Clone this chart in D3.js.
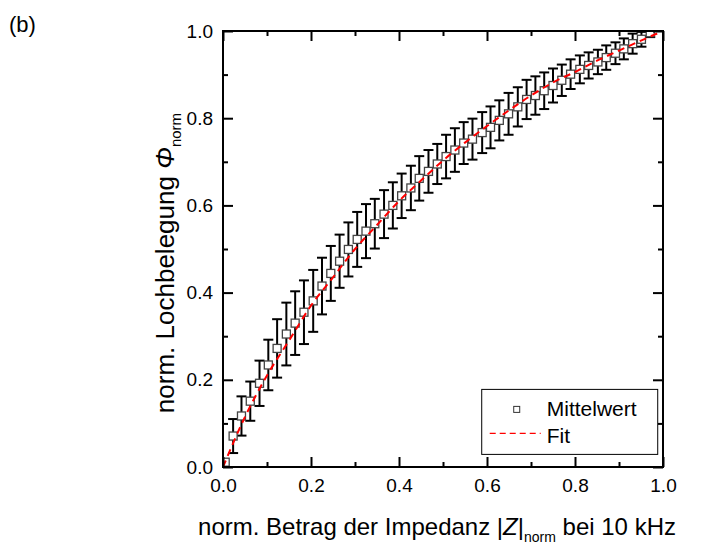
<!DOCTYPE html>
<html lang="de">
<head>
    <meta charset="UTF-8">
    <title>Lochbelegung</title>
    <script src="https://cdn.jsdelivr.net/npm/d3@7.8.5/dist/d3.min.js"></script>
    <style>
        body { margin: 0; background: #fff; }
        text { font-family: "Liberation Sans", Arial, sans-serif; fill: #000; }
    </style>
</head>
<body>
<div id="chart"></div>
<script type="text/javascript">
    // Mittelwerte
    const xVals = [0.005, 0.023, 0.042, 0.062, 0.083, 0.103, 0.123, 0.144, 0.164, 0.184,
        0.205, 0.225, 0.245, 0.265, 0.285, 0.305, 0.325, 0.345, 0.366, 0.386,
        0.406, 0.427, 0.446, 0.467, 0.487, 0.507, 0.527, 0.547, 0.567, 0.589,
        0.608, 0.628, 0.649, 0.670, 0.690, 0.710, 0.730, 0.750, 0.770, 0.790,
        0.811, 0.831, 0.852, 0.871, 0.892, 0.911, 0.931, 0.951, 0.971];
    const yMean = [0.011, 0.071, 0.117, 0.151, 0.192, 0.234, 0.272, 0.305, 0.330, 0.355,
        0.381, 0.415, 0.444, 0.472, 0.499, 0.522, 0.541, 0.558, 0.580, 0.600,
        0.622, 0.640, 0.662, 0.678, 0.695, 0.712, 0.727, 0.743, 0.752, 0.767,
        0.779, 0.795, 0.810, 0.826, 0.843, 0.852, 0.863, 0.875, 0.887, 0.901,
        0.912, 0.921, 0.929, 0.939, 0.949, 0.959, 0.971, 0.981, 0.996];
    const yErr = [0.000, 0.039, 0.045, 0.045, 0.052, 0.058, 0.067, 0.072, 0.073, 0.073,
        0.071, 0.065, 0.063, 0.061, 0.062, 0.063, 0.062, 0.057, 0.055, 0.053,
        0.051, 0.051, 0.051, 0.049, 0.046, 0.050, 0.050, 0.048, 0.047, 0.047,
        0.048, 0.046, 0.048, 0.045, 0.045, 0.044, 0.042, 0.039, 0.036, 0.034,
        0.032, 0.030, 0.028, 0.028, 0.025, 0.024, 0.023, 0.017, 0.010];

    // Fit curve
    const fitX = [0, 0.05, 0.10, 0.15, 0.20, 0.25, 0.30, 0.35, 0.40, 0.45, 0.50,
        0.55, 0.60, 0.65, 0.70, 0.75, 0.80, 0.85, 0.90, 0.95, 1.0];
    const fitY = [0, 0.115, 0.210, 0.290, 0.370, 0.435, 0.500, 0.555, 0.610, 0.657, 0.703,
        0.744, 0.782, 0.818, 0.852, 0.882, 0.906, 0.932, 0.955, 0.978, 1.0];

    const majorTicks = [0, 0.2, 0.4, 0.6, 0.8, 1.0];
    const minorTicks = [0.1, 0.3, 0.5, 0.7, 0.9];

    const width = 701, height = 546;
    const margin = {top: 31, right: 38, bottom: 79, left: 223};
    const pw = width - margin.left - margin.right;
    const ph = height - margin.top - margin.bottom;

    const svg = d3.select('#chart').append('svg')
        .attr('width', width)
        .attr('height', height);

    const x = d3.scaleLinear().domain([0, 1]).range([0, pw]);
    const y = d3.scaleLinear().domain([0, 1]).range([ph, 0]);

    const g = svg.append('g').attr('transform', `translate(${margin.left},${margin.top})`);

    g.append('clipPath').attr('id', 'clip')
        .append('rect').attr('width', pw).attr('height', ph);

    const plot = g.append('g').attr('clip-path', 'url(#clip)');

    const data = xVals.map((v, i) => ({x: v, y: yMean[i], e: yErr[i]}));

    // error bars
    const capW = 5;
    const eb = plot.append('g').attr('stroke', '#000').attr('stroke-width', 2);
    data.filter(d => d.e > 0).forEach(d => {
        const cx = x(d.x);
        eb.append('line').attr('x1', cx).attr('x2', cx)
            .attr('y1', y(d.y - d.e)).attr('y2', y(d.y + d.e));
        eb.append('line').attr('x1', cx - capW).attr('x2', cx + capW)
            .attr('y1', y(d.y - d.e)).attr('y2', y(d.y - d.e));
        eb.append('line').attr('x1', cx - capW).attr('x2', cx + capW)
            .attr('y1', y(d.y + d.e)).attr('y2', y(d.y + d.e));
    });

    // squares
    const sq = 8;
    plot.append('g').selectAll('rect').data(data).join('rect')
        .attr('x', d => x(d.x) - sq / 2)
        .attr('y', d => y(d.y) - sq / 2)
        .attr('width', sq).attr('height', sq)
        .attr('fill', '#fff')
        .attr('stroke', '#444')
        .attr('stroke-width', 1.3);

    // fit line
    const line = d3.line()
        .x((d, i) => x(fitX[i]))
        .y(d => y(d))
        .curve(d3.curveMonotoneX);
    plot.append('path')
        .attr('d', line(fitY))
        .attr('fill', 'none')
        .attr('stroke', '#ff0000')
        .attr('stroke-width', 2)
        .attr('stroke-dasharray', '7,5');

    // axes (ticks inward)
    function styleAxis(sel) {
        sel.select('.domain').remove();
        sel.selectAll('.tick line').attr('stroke', '#000').attr('stroke-width', 2);
        sel.selectAll('.tick text').style('font-size', '19px')
            .style('font-family', '"Liberation Sans", Arial, sans-serif').attr('fill', '#000');
    }

    const fmt = d3.format('.1f');
    g.append('g').attr('transform', `translate(0,${ph})`)
        .call(d3.axisBottom(x).tickValues(majorTicks).tickFormat(fmt).tickSize(-10).tickPadding(12))
        .call(styleAxis);
    g.append('g').attr('transform', `translate(0,${ph})`)
        .call(d3.axisBottom(x).tickValues(minorTicks).tickFormat('').tickSize(-5))
        .call(styleAxis);
    g.append('g')
        .call(d3.axisLeft(y).tickValues(majorTicks).tickFormat(fmt).tickSize(-10).tickPadding(10))
        .call(styleAxis);
    g.append('g')
        .call(d3.axisLeft(y).tickValues(minorTicks).tickFormat('').tickSize(-5))
        .call(styleAxis);
    g.append('g')
        .call(d3.axisTop(x).tickValues(majorTicks).tickFormat('').tickSize(-10))
        .call(styleAxis);
    g.append('g')
        .call(d3.axisTop(x).tickValues(minorTicks).tickFormat('').tickSize(-5))
        .call(styleAxis);
    g.append('g').attr('transform', `translate(${pw},0)`)
        .call(d3.axisRight(y).tickValues(majorTicks).tickFormat('').tickSize(-10))
        .call(styleAxis);
    g.append('g').attr('transform', `translate(${pw},0)`)
        .call(d3.axisRight(y).tickValues(minorTicks).tickFormat('').tickSize(-5))
        .call(styleAxis);

    g.append('rect')
        .attr('width', pw).attr('height', ph)
        .attr('fill', 'none').attr('stroke', '#000').attr('stroke-width', 2);

    // legend
    const lg = g.append('g').attr('transform', `translate(${x(0.588)},${y(0.178)})`);
    lg.append('rect').attr('width', 176).attr('height', 65)
        .attr('fill', '#fff').attr('stroke', '#000').attr('stroke-width', 1);
    lg.append('rect').attr('x', 32).attr('y', 17).attr('width', 6).attr('height', 6)
        .attr('fill', '#fff').attr('stroke', '#333').attr('stroke-width', 1);
    lg.append('text').attr('x', 65).attr('y', 27).style('font-size', '21px').text('Mittelwert');
    lg.append('line').attr('x1', 8).attr('x2', 59).attr('y1', 44).attr('y2', 44)
        .attr('stroke', '#ff0000').attr('stroke-width', 1.3).attr('stroke-dasharray', '6,4');
    lg.append('text').attr('x', 65).attr('y', 54).style('font-size', '21px').text('Fit');

    // x axis title
    const xt = svg.append('text')
        .attr('x', 437).attr('y', 535)
        .attr('text-anchor', 'middle')
        .style('font-size', '24px');
    xt.append('tspan').text('norm. Betrag der Impedanz |');
    xt.append('tspan').style('font-style', 'italic').text('Z');
    xt.append('tspan').text('|');
    xt.append('tspan').attr('dy', 7).style('font-size', '14px').text('norm');
    xt.append('tspan').attr('dy', -7).text(' bei 10 kHz');

    // y axis title
    const yt = svg.append('text')
        .attr('transform', `translate(174,263) rotate(-90)`)
        .attr('text-anchor', 'middle')
        .style('font-size', '26px');
    yt.append('tspan').text('norm. Lochbelegung ');
    yt.append('tspan').style('font-style', 'italic').text('Φ');
    yt.append('tspan').attr('dy', 7).style('font-size', '15px').text('norm');

    // panel label
    svg.append('text').attr('x', 9).attr('y', 32).style('font-size', '22px').text('(b)');
</script>
</body>
</html>
